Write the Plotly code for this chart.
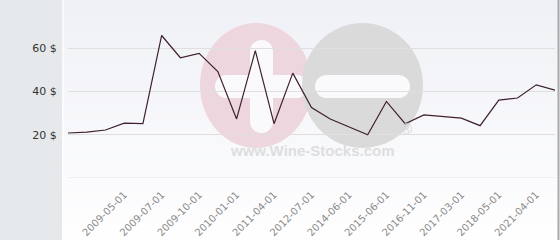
import plotly.graph_objects as go

# ---- data ----
prices = [20.8, 21.2, 22.2, 25.4, 25.1, 65.9, 55.6, 57.6, 49.2, 27.3, 58.9, 25.1,
          48.5, 32.6, 27.3, 23.8, 20.0, 35.4, 25.1, 29.2, 28.5, 27.7, 24.2, 36.0,
          37.0, 43.1, 40.6]
tick_positions = [3, 5, 7, 9, 11, 13, 15, 17, 19, 21, 23, 25]
tick_labels = ["2009-05-01", "2009-07-01", "2009-10-01", "2010-01-01", "2011-04-01",
               "2012-07-01", "2014-06-01", "2015-06-01", "2016-11-01", "2017-03-01",
               "2018-05-01", "2021-04-01"]
y_ticks = [20, 40, 60]
y_tick_labels = ["20 $", "40 $", "60 $"]

x_idx = list(range(len(prices)))

W, H = 560, 240
L, R, T, B = 68, 5, 5, 62
PW = W - L - R
PH = H - T - B

def px(x):
    return (x - L) / PW

def py(y):
    return (H - B - y) / PH

shapes = []
# gradient background bands
n = 30
top = (240, 241, 246)
bot = (254, 254, 255)
for i in range(n):
    f = i / (n - 1)
    c = tuple(int(round(top[k] + (bot[k] - top[k]) * f)) for k in range(3))
    y0 = H * i / n
    y1 = H * (i + 1) / n + 0.5
    shapes.append(dict(type="rect", xref="paper", yref="paper", layer="below",
                       x0=px(62), x1=px(560), y0=py(y1), y1=py(y0),
                       fillcolor="rgb(%d,%d,%d)" % c, line=dict(width=0)))
# left panel
shapes.append(dict(type="rect", xref="paper", yref="paper", layer="below",
                   x0=px(0), x1=px(62), y0=py(H), y1=py(0),
                   fillcolor="#e6e9ec", line=dict(width=0)))
shapes.append(dict(type="line", xref="paper", yref="paper", layer="below",
                   x0=px(63), x1=px(63), y0=py(H), y1=py(0),
                   line=dict(color="#ffffff", width=1)))
# right border
shapes.append(dict(type="line", xref="paper", yref="paper", layer="above",
                   x0=px(558.5), x1=px(558.5), y0=py(H), y1=py(0),
                   line=dict(color="#a9a9a9", width=2)))

PINK = "rgb(237,214,222)"
GREY = "rgb(218,218,219)"
WHITE = "rgb(250,250,252)"

def ellipse(x0, x1, y0, y1, color):
    shapes.append(dict(type="circle", xref="paper", yref="paper", layer="below",
                       x0=px(x0), x1=px(x1), y0=py(y1), y1=py(y0),
                       fillcolor=color, line=dict(width=0)))

def rect(x0, x1, y0, y1, color):
    shapes.append(dict(type="rect", xref="paper", yref="paper", layer="below",
                       x0=px(x0), x1=px(x1), y0=py(y1), y1=py(y0),
                       fillcolor=color, line=dict(width=0)))

def pill_h(x0, x1, y0, y1, color):
    r = (y1 - y0) / 2
    rect(x0 + r, x1 - r, y0, y1, color)
    ellipse(x0, x0 + 2 * r, y0, y1, color)
    ellipse(x1 - 2 * r, x1, y0, y1, color)

def pill_v(x0, x1, y0, y1, color):
    r = (x1 - x0) / 2
    rect(x0, x1, y0 + r, y1 - r, color)
    ellipse(x0, x1, y0, y0 + 2 * r, color)
    ellipse(x0, x1, y1 - 2 * r, y1, color)

# watermark: pink plus, grey minus
ellipse(200, 312, 23, 148, PINK)
pill_v(250, 273, 40, 133, WHITE)
pill_h(215, 308, 75, 98, WHITE)
ellipse(302, 423, 23, 148, GREY)
pill_h(315, 410, 75, 98, WHITE)

# baseline grid line at 0
shapes.append(dict(type="line", xref="paper", yref="y", layer="below",
                   x0=0, x1=1, y0=0, y1=0, line=dict(color="#dfdfdf", width=1)))

fig = go.Figure()
fig.add_trace(go.Scatter(
    x=x_idx, y=prices, mode="lines",
    line=dict(color="rgb(62,32,48)", width=1.2),
    hoverinfo="skip", showlegend=False))

fig.update_layout(
    width=W, height=H,
    margin=dict(l=L, r=R, t=T, b=B, pad=0, autoexpand=False),
    paper_bgcolor="#ffffff",
    plot_bgcolor="rgba(0,0,0,0)",
    shapes=shapes,
    showlegend=False,
    annotations=[
        dict(xref="paper", yref="paper", x=px(312), y=py(161), text="<b>www.Wine-Stocks.com</b>",
             showarrow=False, font=dict(family="Liberation Sans, Arial", size=15, color="rgb(222,222,223)")),
        dict(xref="paper", yref="paper", x=px(414), y=py(139), text="®",
             showarrow=False, font=dict(family="Liberation Sans, Arial", size=15, color="rgb(214,214,216)")),
    ],
    xaxis=dict(
        range=[0, len(prices) - 1],
        tickmode="array", tickvals=tick_positions, ticktext=tick_labels,
        tickangle=-45, showgrid=False, zeroline=False, showline=False,
        ticks="outside", ticklen=6, tickcolor="rgba(0,0,0,0)",
        tickfont=dict(family="DejaVu Sans", size=10, color="#8a8a8a"),
        fixedrange=True, automargin=False,
    ),
    yaxis=dict(
        range=[0, 80],
        tickmode="array", tickvals=y_ticks, ticktext=y_tick_labels,
        showgrid=True, gridcolor="#dfdfdf", gridwidth=1,
        zeroline=False, showline=False,
        ticks="outside", ticklen=8, tickcolor="rgba(0,0,0,0)",
        tickfont=dict(family="DejaVu Sans", size=11, color="#333333"),
        fixedrange=True, automargin=False,
    ),
)

fig.write_html("out.html")
